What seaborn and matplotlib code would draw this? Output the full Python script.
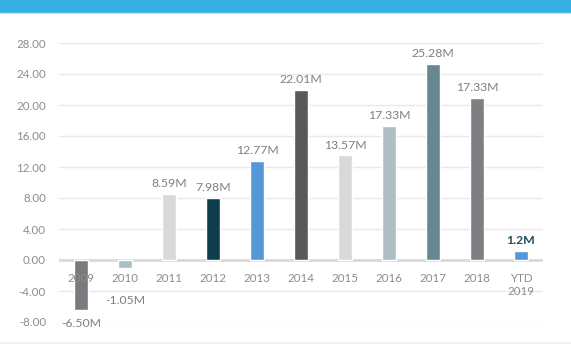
import matplotlib
matplotlib.use("Agg")
import matplotlib.pyplot as plt
import seaborn as sns
import pandas as pd
from matplotlib.patches import Rectangle
from matplotlib.lines import Line2D
import matplotlib.transforms as mtransforms

categories = ["2009", "2010", "2011", "2012", "2013", "2014", "2015", "2016", "2017", "2018", "YTD\n2019"]
values = [-6.5, -1.0, 8.55, 8.0, 12.8, 21.95, 13.5, 17.3, 25.3, 20.9, 1.2]
value_labels = ["-6.50M", "-1.05M", "8.59M", "7.98M", "12.77M", "22.01M", "13.57M", "17.33M", "25.28M", "17.33M", "1.2M"]
bar_colors = ["#7a7a7e", "#aabfc5", "#d9d9d9", "#0e3d4c", "#5598d8", "#58595b",
              "#d9d9d9", "#adbfc4", "#678892", "#7f7f83", "#5598d8"]
y_ticks = [-8, -4, 0, 4, 8, 12, 16, 20, 24, 28]

sns.set_theme(style="white")
plt.rcParams["font.family"] = ["Lato", "DejaVu Sans"]
FS = 8.3
FS_VAL = 8.8

fig = plt.figure(figsize=(5.71, 3.44), dpi=100)
# top banner
fig.patches.append(Rectangle((0, 1 - 12 / 344), 1, 12 / 344, transform=fig.transFigure,
                             color="#35aee0", zorder=0))
fig.lines.append(Line2D([0, 1], [1 - 13 / 344, 1 - 13 / 344], transform=fig.transFigure,
                        color="#bfe6f5", lw=1))
fig.lines.append(Line2D([0, 1], [1.0 / 344, 1.0 / 344], transform=fig.transFigure,
                        color="#ececec", lw=1.2))

ax = fig.add_axes([59 / 571, 22 / 344, (543 - 59) / 571, (322 - 43) / 344])
df = pd.DataFrame({"cat": categories, "val": values})
sns.barplot(data=df, x="cat", y="val", hue="cat", palette=bar_colors, width=0.32,
            legend=False, ax=ax, saturation=1, zorder=3)

ax.set_xlim(-0.5, 10.5)
ax.set_ylim(-8, 28)
ax.set_yticks(y_ticks)
ax.set_yticklabels([f"{t:.2f}" for t in y_ticks], color="#8c8c8c", fontsize=FS)
ax.tick_params(axis="y", length=0, pad=9.4)
ax.set_xticks([])
ax.set_xlabel("")
ax.set_ylabel("")
for s in ax.spines.values():
    s.set_visible(False)
for t in y_ticks:
    if t == 0:
        ax.axhline(0, color="#d9d9d9", lw=2, zorder=2)
    else:
        ax.axhline(t, color="#e9e9e9", lw=1, zorder=1)

# category labels just under zero line
trans = mtransforms.offset_copy(ax.transData, fig=fig, x=0, y=-9.5, units="points")
for i, c in enumerate(categories):
    ax.text(i, 0, c, transform=trans, ha="center", va="top", fontsize=FS,
            color="#8c8c8c", linespacing=1.25, zorder=4)

# value labels
for i, (v, lab) in enumerate(zip(values, value_labels)):
    bold = lab == "1.2M"
    color = "#1f4e5f" if bold else "#7f7f7f"
    if v >= 0:
        ax.annotate(lab, (i, v), xytext=(0, 3.5), textcoords="offset points",
                    ha="center", va="bottom", fontsize=FS_VAL, color=color,
                    fontweight="bold" if bold else "normal", zorder=4)
    else:
        ax.annotate(lab, (i, min(v, -3.5)), xytext=(0, -5.5), textcoords="offset points",
                    ha="center", va="top", fontsize=FS_VAL, color=color, zorder=4)

fig.savefig("out.png", dpi=100)
